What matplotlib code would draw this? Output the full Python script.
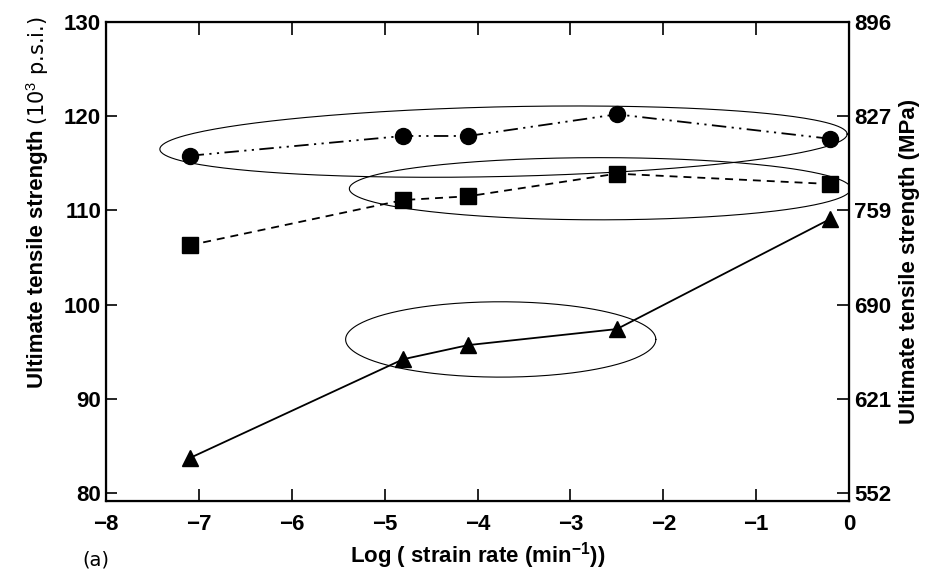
import numpy as np
import matplotlib.pyplot as plt

plt.rcParams['font.family'] = ['Liberation Sans', 'DejaVu Sans']
plt.rcParams['mathtext.fontset'] = 'custom'
plt.rcParams['mathtext.rm'] = 'Liberation Sans'
plt.rcParams['mathtext.bf'] = 'Liberation Sans:bold'

# log strain rate (min^-1) for each test
log_rate = [-7.1, -4.8, -4.1, -2.5, -0.2]
# ultimate tensile strength, 10^3 psi
uts_circle = [115.8, 117.9, 117.9, 120.2, 117.6]
uts_square = [106.3, 111.1, 111.5, 113.9, 112.8]
uts_triangle = [83.7, 94.2, 95.7, 97.4, 109.1]

x_ticks = [-8, -7, -6, -5, -4, -3, -2, -1, 0]
psi_ticks = [80, 90, 100, 110, 120, 130]
mpa_labels = ['552', '621', '690', '759', '827', '896']

# hand drawn rings: centre x, centre y, half width, half height, slope
rings = [(-3.72, 117.3, 3.70, 3.7, 0.216),
         (-2.68, 112.3, 2.70, 3.3, 0.0),
         (-3.75, 96.3, 1.67, 4.0, 0.0)]

fig = plt.figure(figsize=(9.39, 5.72), dpi=100)
ax = fig.add_axes([106/939, 1-501/572, (849-106)/939, (501-22)/572])

ax.plot(log_rate, uts_circle, color='black', lw=1.3, marker='o', ms=11.5,
        linestyle=(0, (8, 3, 1.2, 3, 1.2, 3)))
ax.plot(log_rate, uts_square, color='black', lw=1.3, marker='s', ms=11,
        linestyle=(0, (4.4, 3.3)))
ax.plot(log_rate, uts_triangle, color='black', lw=1.3, marker='^', ms=12,
        linestyle='-')

t = np.linspace(0, 2*np.pi, 300)
for cx, cy, a, b, k in rings:
    ex = cx + a*np.cos(t)
    ey = cy + b*np.sin(t) + k*(ex - cx)
    ax.plot(ex, ey, color='black', lw=0.8)

ax.set_xlim(-8, 0)
ax.set_ylim(79.15, 130)
ax.set_xticks(x_ticks)
ax.set_yticks(psi_ticks)
for lab in ax.get_xticklabels() + ax.get_yticklabels():
    lab.set_fontweight('bold')
ax.tick_params(axis='x', direction='in', length=9, width=1.2, top=True,
               labelsize=16, pad=9)
ax.tick_params(axis='y', direction='in', length=8, width=1.2, labelsize=16)
for s in ax.spines.values():
    s.set_linewidth(1.6)

ax2 = ax.twinx()
ax2.set_ylim(ax.get_ylim())
ax2.set_yticks(psi_ticks)
ax2.set_yticklabels(mpa_labels, fontweight='bold')
ax2.tick_params(axis='y', direction='in', length=9, width=1.2, labelsize=16)
ax2.set_ylabel('Ultimate tensile strength (MPa)', fontsize=16,
               fontweight='bold', labelpad=6)

fig.text(38/939, 1-388/572, 'Ultimate tensile strength', rotation=90,
         ha='center', va='bottom', fontsize=16, fontweight='bold')
fig.text(38/939, 1-125/572, '(10$^3$ p.s.i.)', rotation=90,
         ha='center', va='bottom', fontsize=15, family='DejaVu Sans')

ax.set_xlabel(r'Log ( strain rate (min$^{\mathbf{-1}}$))', fontsize=16,
              fontweight='bold', labelpad=4)
fig.text(96/939, 1-560/572, '(a)', ha='center', va='center', fontsize=14,
         family='DejaVu Sans')

fig.savefig('out.png', dpi=100)
